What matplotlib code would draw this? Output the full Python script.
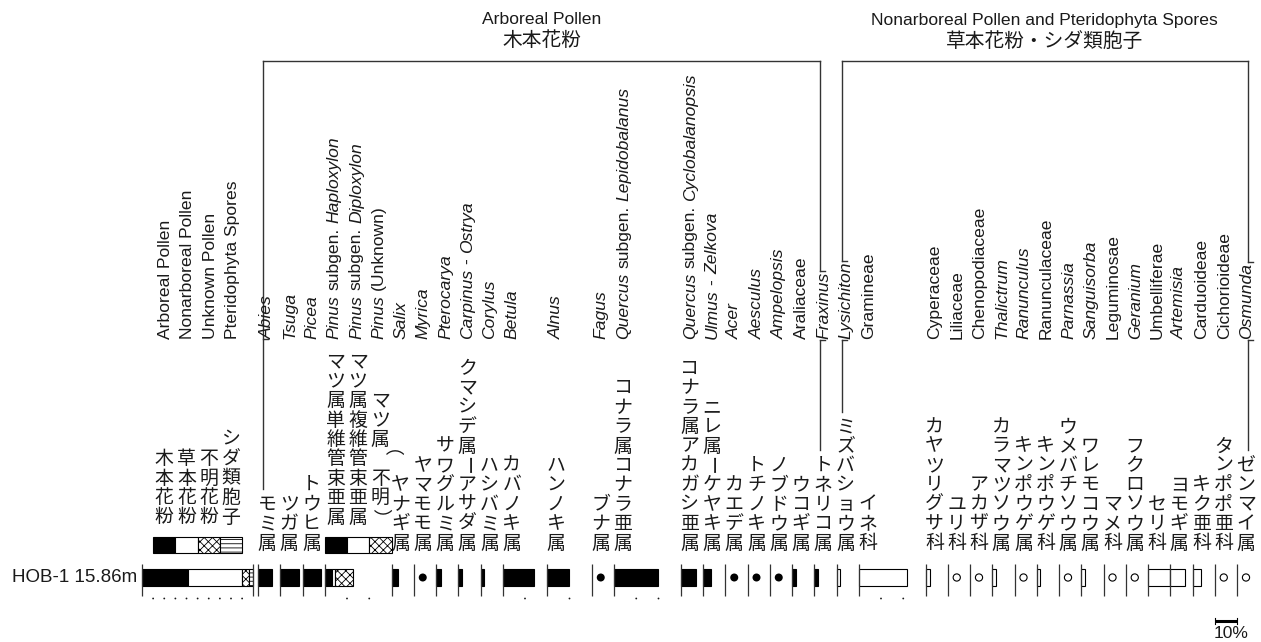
import matplotlib
matplotlib.use("Agg")
import matplotlib.pyplot as plt
from matplotlib.patches import Rectangle, Circle

# ---------------- data ----------------
summary_en = ["Arboreal Pollen", "Nonarboreal Pollen", "Unknown Pollen", "Pteridophyta Spores"]
summary_ja = ["木本花粉", "草本花粉", "不明花粉", "シダ類胞子"]
summary_pct = [41.5, 48.5, 6.5, 3.5]

pinus_en = ["*Pinus* subgen. *Haploxylon*", "*Pinus* subgen. *Diploxylon*", "*Pinus* (Unknown)"]
pinus_ja = ["マツ属単維管束亜属", "マツ属複維管束亜属", "マツ属（不明）"]
pinus_pct = [3.3, 1.5, 7.9]

ap_en = ["*Abies*", "*Tsuga*", "*Picea*", "*Salix*", "*Myrica*", "*Pterocarya*",
         "*Carpinus* - *Ostrya*", "*Corylus*", "*Betula*", "*Alnus*", "*Fagus*",
         "*Quercus* subgen. *Lepidobalanus*", "*Quercus* subgen. *Cyclobalanopsis*",
         "*Ulmus* - *Zelkova*", "*Acer*", "*Aesculus*", "*Ampelopsis*", "Araliaceae", "*Fraxinus*"]
ap_ja = ["モミ属", "ツガ属", "トウヒ属", "ヤナギ属", "ヤマモモ属", "サワグルミ属",
         "クマシデ属ーアサダ属", "ハシバミ属", "カバノキ属", "ハンノキ属", "ブナ属",
         "コナラ属コナラ亜属", "コナラ属アカガシ亜属", "ニレ属ーケヤキ属", "カエデ属",
         "トチノキ属", "ノブドウ属", "ウコギ属", "トネリコ属"]
ap_pct = [6.3, 8.5, 8.1, 3.1, 0.5, 2.2, 1.8, 1.5, 13.9, 9.9, 0.5, 19.8, 6.7, 3.6,
          0.5, 0.5, 0.5, 1.8, 1.8]

nap_en = ["*Lysichiton*", "Gramineae", "Cyperaceae", "Liliaceae", "Chenopodiaceae",
          "*Thalictrum*", "*Ranunculus*", "Ranunculaceae", "*Parnassia*", "*Sanguisorba*",
          "Leguminosae", "*Geranium*", "Umbelliferae", "*Artemisia*", "Carduoideae",
          "Cichorioideae", "*Osmunda*"]
nap_ja = ["ミズバショウ属", "イネ科", "カヤツリグサ科", "ユリ科", "アカザ科", "カラマツソウ属",
          "キンポウゲ属", "キンポウゲ科", "ウメバチソウ属", "ワレモコウ属", "マメ科",
          "フクロソウ属", "セリ科", "ヨモギ属", "キク亜科", "タンポポ亜科", "ゼンマイ属"]
nap_pct = [1.5, 21.6, 2.2, 0.5, 0.5, 1.8, 0.5, 1.3, 0.5, 1.8, 0.5, 0.5, 9.9, 6.7,
           4.0, 0.5, 0.5]

sample_label = "HOB-1 15.86m"
group_titles = [("Arboreal Pollen", "木本花粉"),
                ("Nonarboreal Pollen and Pteridophyta Spores", "草本花粉・シダ類胞子")]
trace_limit = 1.0     # taxa below this are drawn as presence symbols
scale_pct = 10

# ---------------- layout ----------------
ap_span = [1, 1, 1, 1, 1, 1, 1, 1, 2, 2, 1, 3, 1, 1, 1, 1, 1, 1, 1]
pinus_span = 3
nap_span = [1, 3] + [1] * 15

W, H = 1261, 642
X0, SLOT = 258.0, 22.25
PXPCT = SLOT / 10.0
SUM_X0, SUM_PXPCT = 142.0, SLOT * 5 / 100.0
BAR_T, BAR_B = 569, 586
AX_T, AX_B = 564, 596
DOT_Y = 598.5
EN_BOTTOM = 339
JA_BOTTOM_TAXA = 543
JA_BOTTOM_SUM = 517
JA_PITCH = 19.4
BRACKET_Y = 61

EN = "Liberation Sans"
JA = ["Noto Sans CJK JP", "DejaVu Sans"]
EN_SIZE = 12.6
JA_SIZE = 13.6
INK = "#1a1a1a"
LINE = "#333333"

plt.rcParams["hatch.linewidth"] = 0.6
fig = plt.figure(figsize=(W / 100, H / 100), dpi=100)
ax = fig.add_axes([0, 0, 1, 1])
ax.set_xlim(0, W)
ax.set_ylim(H, 0)
ax.axis("off")
renderer = fig.canvas.get_renderer()


def draw_en(xb, y0, markup, size=EN_SIZE):
    """Rotated label reading upward from y0; *...* marks italic parts. Returns top y."""
    parts = markup.split("*")
    y = y0
    sp = 0.278 * size * 100 / 72
    first = True
    for k, p in enumerate(parts):
        if p == "":
            continue
        lead = p.startswith(" ")
        trail = p.endswith(" ")
        txt = p.strip()
        if lead and not first:
            y -= sp
        t = ax.text(xb, y, txt, rotation=90, rotation_mode="anchor", ha="left",
                    va="baseline", fontsize=size, family=EN, color=INK,
                    style="italic" if k % 2 == 1 else "normal")
        bb = t.get_window_extent(renderer)
        y -= bb.height
        if trail:
            y -= sp
        first = False
    return y


def draw_ja(xc, y_bottom, s, size=JA_SIZE, pitch=JA_PITCH):
    n = len(s)
    for i, ch in enumerate(s):
        y = y_bottom - (n - 1 - i) * pitch
        rot = -90 if ch in "ー（）" else 0
        ax.text(xc, y, ch, ha="center", va="center", fontsize=size, family=JA,
                color=INK, rotation=rot)
    return y_bottom - (n - 1) * pitch


def axis_line(x):
    ax.plot([x, x], [AX_T, AX_B], color=LINE, lw=0.9, solid_capstyle="butt")


def ten_dots(x, pxpct, maxpct):
    p = 10
    while p < maxpct - 0.1:
        ax.add_patch(Circle((x + p * pxpct, DOT_Y), 0.9, color=INK, lw=0))
        p += 10


# ---------------- summary column ----------------
sum_fill = [("black", None), ("white", None), ("white", "xxxx"), ("white", "----")]
x = SUM_X0
for v, (fc, hatch) in zip(summary_pct, sum_fill):
    w = v * SUM_PXPCT
    ax.add_patch(Rectangle((x, BAR_T), w, BAR_B - BAR_T, facecolor=fc, edgecolor="black",
                           lw=0.8, hatch=hatch))
    x += w
axis_line(SUM_X0)
axis_line(SUM_X0 + 100 * SUM_PXPCT)
ten_dots(SUM_X0, SUM_PXPCT, 100)
for i, (en, ja) in enumerate(zip(summary_en, summary_ja)):
    cx = SUM_X0 + SLOT * (i + 1)
    draw_en(cx + 6, EN_BOTTOM, en)
    draw_ja(cx, JA_BOTTOM_SUM, ja)
    fc, hatch = sum_fill[i]
    ax.add_patch(Rectangle((cx - SLOT / 2, 537), SLOT, 16, facecolor=fc,
                           edgecolor="black", lw=0.8, hatch=hatch))

# ---------------- taxa columns ----------------
cols = []
for i in range(3):
    cols.append(("ap", i, ap_span[i]))
cols.append(("pinus", None, pinus_span))
for i in range(3, len(ap_en)):
    cols.append(("ap", i, ap_span[i]))
for i in range(len(nap_en)):
    cols.append(("nap", i, nap_span[i]))

pos = {}
en_top = {}
ja_top = {}
slot = 0
for kind, i, span in cols:
    x = X0 + slot * SLOT
    pos[(kind, i)] = x
    axis_line(x)
    ten_dots(x, PXPCT, span * 10)
    if kind == "pinus":
        xx = x
        pin_fill = [("black", None), ("white", None), ("white", "xxxx")]
        for v, (fc, hatch) in zip(pinus_pct, pin_fill):
            ax.add_patch(Rectangle((xx, BAR_T), v * PXPCT, BAR_B - BAR_T, facecolor=fc,
                                   edgecolor="black", lw=0.8, hatch=hatch))
            xx += v * PXPCT
        for j in range(3):
            cx = x + SLOT * j + 11
            draw_en(cx + 3, EN_BOTTOM, pinus_en[j])
            draw_ja(cx, JA_BOTTOM_SUM, pinus_ja[j])
            fc, hatch = pin_fill[j]
            ax.add_patch(Rectangle((x + SLOT * j, 537), SLOT, 16, facecolor=fc,
                                   edgecolor="black", lw=0.8, hatch=hatch))
    else:
        en = (ap_en if kind == "ap" else nap_en)[i]
        ja = (ap_ja if kind == "ap" else nap_ja)[i]
        v = (ap_pct if kind == "ap" else nap_pct)[i]
        fill = "black" if kind == "ap" else "white"
        if v < trace_limit:
            if kind == "ap":
                ax.add_patch(Circle((x + 9, (BAR_T + BAR_B) / 2), 4.0, color="black", lw=0))
            else:
                ax.add_patch(Circle((x + 9, (BAR_T + BAR_B) / 2), 3.6, facecolor="white",
                                    edgecolor="black", lw=0.8))
        else:
            ax.add_patch(Rectangle((x, BAR_T), v * PXPCT, BAR_B - BAR_T, facecolor=fill,
                                   edgecolor="black", lw=0.8))
        en_top[(kind, i)] = draw_en(x + 14, EN_BOTTOM, en)
        ja_top[(kind, i)] = draw_ja(x + 9, JA_BOTTOM_TAXA, ja)
    slot += span

# ---------------- group brackets ----------------
lk = dict(color=LINE, lw=1.0)


def stub(x, y):
    ax.plot([x, x + 5], [y, y], **lk)


def bracket_side(key, x, through):
    """Vertical bracket side from the top line down to the Japanese label."""
    y_end = ja_top[key] - 15
    if through:
        ax.plot([x, x], [BRACKET_Y, en_top[key] - 1], **lk)
        stub(x, en_top[key] - 1)
        ax.plot([x, x], [EN_BOTTOM + 1, y_end], **lk)
        stub(x, EN_BOTTOM + 1)
    else:
        ax.plot([x, x], [BRACKET_Y, y_end], **lk)
        stub(x, EN_BOTTOM)


k_ap_l, k_ap_r = ("ap", 0), ("ap", len(ap_en) - 1)
k_nap_l, k_nap_r = ("nap", 0), ("nap", len(nap_en) - 1)
ap_left, ap_right = pos[k_ap_l] + 5, pos[k_ap_r] + 6
nap_left, nap_right = pos[k_nap_l] + 5, pos[k_nap_r] + 11
ax.plot([ap_left, ap_right], [BRACKET_Y, BRACKET_Y], **lk)
ax.plot([nap_left, nap_right], [BRACKET_Y, BRACKET_Y], **lk)
bracket_side(k_ap_l, ap_left, False)
bracket_side(k_ap_r, ap_right, True)
bracket_side(k_nap_l, nap_left, True)
bracket_side(k_nap_r, nap_right, True)

for (t_en, t_ja), (l, r) in zip(group_titles, [(ap_left, ap_right), (nap_left, nap_right)]):
    ax.text((l + r) / 2, 20, t_en, ha="center", va="center", fontsize=EN_SIZE,
            family=EN, color=INK)
    ax.text((l + r) / 2, 41, t_ja, ha="center", va="center", fontsize=JA_SIZE + 0.6,
            family=JA, color=INK)

# ---------------- sample label & scale ----------------
ax.text(137, 578, sample_label, ha="right", va="center", fontsize=13.5, family=EN, color=INK)
sx = pos[("nap", len(nap_en) - 2)]
ax.plot([sx, sx + scale_pct * PXPCT], [621, 621], color="black", lw=2.2, solid_capstyle="butt")
ax.plot([sx, sx], [618, 624], color="black", lw=0.8)
ax.plot([sx + scale_pct * PXPCT] * 2, [618, 624], color="black", lw=0.8)
ax.text(sx - 1, 633, f"{scale_pct}%", ha="left", va="center", fontsize=EN_SIZE,
        family=EN, color=INK)

fig.savefig("out.png", dpi=100)
